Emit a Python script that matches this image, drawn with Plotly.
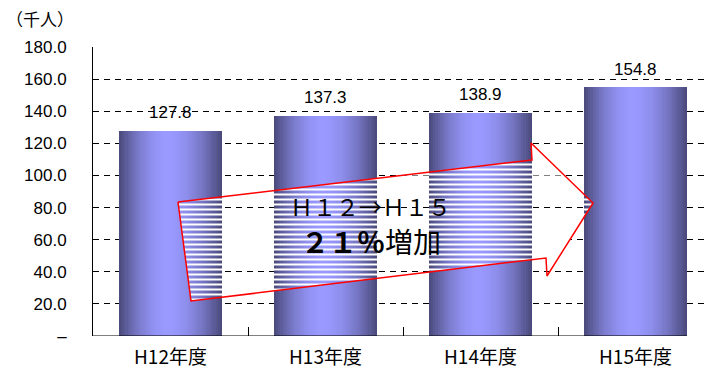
import plotly.graph_objects as go
import numpy as np

# ---------------- data ----------------
categories = ["H12年度", "H13年度", "H14年度", "H15年度"]
values = [127.8, 137.3, 138.9, 154.8]
value_labels = ["127.8", "137.3", "138.9", "154.8"]
y_tick_values = [0, 20, 40, 60, 80, 100, 120, 140, 160, 180]
y_tick_labels = ["–", "20.0", "40.0", "60.0", "80.0", "100.0", "120.0", "140.0", "160.0", "180.0"]
unit_label = "（千人）"
arrow_text_1 = "Ｈ１２→Ｈ１５"
arrow_text_2 = "<b>２１％</b>増加"

# ---------------- layout constants (pixels) ----------------
FIG_W, FIG_H = 705, 378
M_L, M_R, M_T, M_B = 93, 0, 47, 42
PLOT_W = FIG_W - M_L - M_R
PLOT_H = FIG_H - M_T - M_B
CAT_PX = 155
X_RANGE = [-0.5, -0.5 + PLOT_W / CAT_PX]
BAR_W = 103 / CAT_PX

FONT = "Liberation Sans, Noto Sans CJK JP, sans-serif"
CJK = "Noto Sans CJK JP, sans-serif"

fig = go.Figure()

# gradient bars built from thin overlapping slices
N = 48
edge = np.array([72, 72, 120])
center = np.array([153, 153, 255])
c = 0.47
d = BAR_W / N
for i in range(N):
    t = (i + 0.5) / N
    s = (t - c) / c if t < c else (t - c) / (1 - c)
    f = 1 - abs(s) ** 1.8
    col = edge + (center - edge) * f
    off = -BAR_W / 2 + i * d
    wd = min(d * 1.8, BAR_W / 2 - off)
    fig.add_bar(
        x=categories, y=values, width=wd, offset=off,
        marker=dict(color="rgb(%d,%d,%d)" % tuple(col.round().astype(int)), line=dict(width=0)),
        hoverinfo="skip", showlegend=False,
    )

# decorative arrow (pixel coordinates on an overlay axis)
arrow_px_x = [178, 532, 531, 593, 547, 546, 191, 178]
arrow_px_y = [202, 160, 143, 203, 276, 258, 301, 202]
fig.add_scatter(
    x=arrow_px_x, y=arrow_px_y, xaxis="x2", yaxis="y2", mode="lines",
    fill="toself", fillcolor="rgba(0,0,0,0)",
    fillpattern=dict(shape="-", fgcolor="white", bgcolor="rgba(0,0,0,0)",
                     size=5, solidity=0.4, fillmode="replace"),
    line=dict(color="red", width=1.5), hoverinfo="skip", showlegend=False,
)

annotations = []
for cat, val, lab in zip(categories, values, value_labels):
    annotations.append(dict(x=cat, y=val, text=lab, showarrow=False, yshift=18,
                            font=dict(family=FONT, size=17, color="black")))
annotations.append(dict(xref="x2", yref="y2", x=370, y=206, text=arrow_text_1, showarrow=False,
                        font=dict(family=CJK, size=23, color="black")))
annotations.append(dict(xref="x2", yref="y2", x=371, y=241, text=arrow_text_2, showarrow=False,
                        font=dict(family=CJK, size=28, color="black")))
annotations.append(dict(xref="paper", yref="paper", x=(4 - M_L) / PLOT_W, xanchor="left",
                        y=(FIG_H - M_B - 18) / PLOT_H, yanchor="middle",
                        text=unit_label, showarrow=False,
                        font=dict(family=CJK, size=17, color="black")))

fig.update_layout(
    width=FIG_W, height=FIG_H,
    margin=dict(l=M_L, r=M_R, t=M_T, b=M_B, pad=0),
    paper_bgcolor="white", plot_bgcolor="white",
    barmode="overlay", bargap=0,
    showlegend=False,
    xaxis=dict(type="category", range=X_RANGE, showgrid=False, showline=False, zeroline=False,
               ticks="inside", tickson="boundaries", ticklen=9, tickcolor="black", tickwidth=1,
               tickfont=dict(family=CJK, size=19, color="black"), ticklabelstandoff=8,
               fixedrange=True),
    yaxis=dict(range=[0, 180], tickvals=y_tick_values, ticktext=y_tick_labels,
               showgrid=True, gridcolor="black", gridwidth=1, griddash="6px,5px",
               showline=True, linecolor="black", linewidth=1, zeroline=False,
               ticks="inside", ticklen=5, tickcolor="black",
               tickfont=dict(family=FONT, size=17, color="black"), ticklabelstandoff=22,
               fixedrange=True),
    xaxis2=dict(overlaying="x", range=[M_L, FIG_W], visible=False, fixedrange=True),
    yaxis2=dict(overlaying="y", range=[FIG_H - M_B, M_T], visible=False, fixedrange=True),
    annotations=annotations,
    shapes=[dict(type="line", xref="x", yref="y", x0=-0.5, x1=3 + BAR_W / 2, y0=0, y1=0,
                 line=dict(color="black", width=1.2), layer="above")],
)

fig.write_html("out.html")
